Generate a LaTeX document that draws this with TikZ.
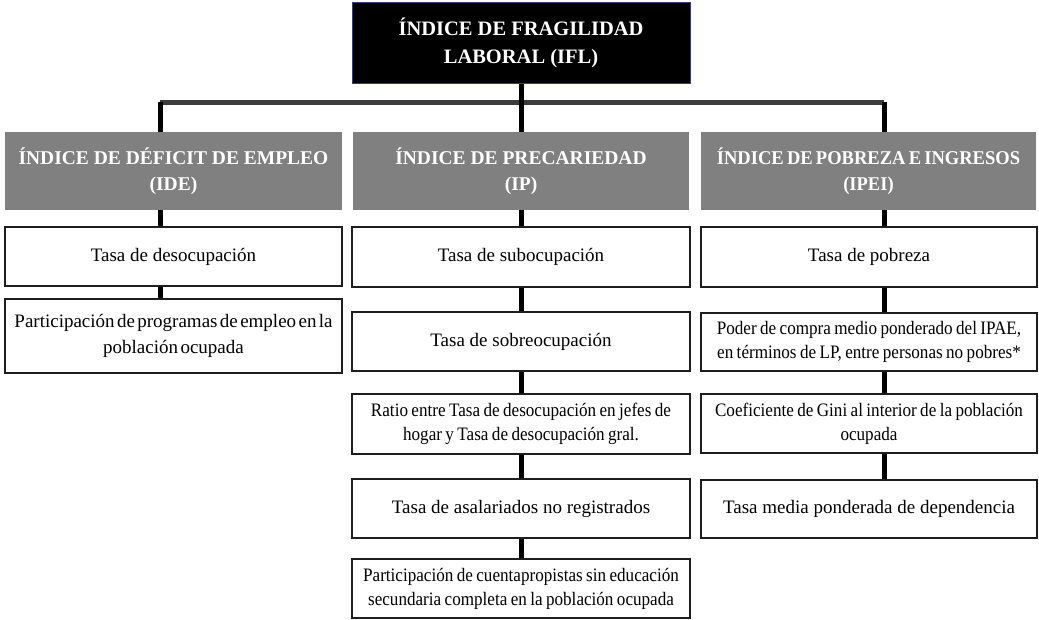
\documentclass[tikz,border=0pt]{standalone}
\usepackage{fontspec}
\setmainfont{Liberation Serif}
\newfontfamily\tightfont{Liberation Serif}[WordSpace=0.5]
\newfontfamily\condfont{Liberation Serif}[FakeStretch=0.9, WordSpace=0.8]
\newfontfamily\hdrcond{Liberation Serif}[FakeStretch=0.95, WordSpace=0.7]
\definecolor{hdrgray}{RGB}{128,128,128}
\definecolor{bargray}{RGB}{60,60,60}
\definecolor{topborder}{RGB}{50,65,110}
\definecolor{boxline}{RGB}{30,30,30}
\tikzset{
  topbox/.style={draw=topborder, line width=1pt, fill=black, text=white, align=center,
    minimum width=338pt, minimum height=81pt, inner sep=0pt,
    font=\fontsize{20.5}{28}\selectfont\bfseries},
  hdrbox/.style={fill=hdrgray, text=white, align=center, minimum height=78pt, inner sep=0pt,
    font=\fontsize{19.5}{26}\selectfont\bfseries},
  itembox/.style={draw=boxline, line width=1.5pt, fill=white, align=center, inner sep=0pt,
    font=\fontsize{19}{24}\selectfont},
  condtext/.style={font=\condfont\fontsize{19}{24}\selectfont},
  tighttext/.style={font=\tightfont\fontsize{19}{26}\selectfont},
  conn/.style={line width=5pt, black},
  barline/.style={line width=5pt, bargray},
}
\begin{document}
\begin{tikzpicture}[x=1pt,y=-1pt]
\useasboundingbox (0,0) rectangle (1039,619);
\fill[white] (0,0) rectangle (1039,619);

% coordinates for the bar and column connector positions
\coordinate (barL) at (160,102);
\coordinate (barR) at (884,102);
\coordinate (colL) at (160,0);
\coordinate (colR) at (884,0);

% connectors first (boxes drawn on top)
\draw[barline] (barL) -- (barR);

% top
\node[topbox] (top) at (521,42.5) {ÍNDICE DE FRAGILIDAD\\LABORAL (IFL)};

% headers
\node[hdrbox, minimum width=337pt] (hl) at (173.5,171) {ÍNDICE DE DÉFICIT DE EMPLEO\\(IDE)};
\node[hdrbox, minimum width=336pt] (hm) at (521,171) {ÍNDICE DE PRECARIEDAD\\(IP)};
\node[hdrbox, minimum width=335pt, font=\hdrcond\fontsize{19.5}{26}\selectfont\bfseries] (hr) at (868.5,171) {ÍNDICE DE POBREZA E INGRESOS\\(IPEI)};

% left column items
\node[itembox, minimum width=337pt, minimum height=59pt] (l1) at (173.5,256.5) {Tasa de desocupación};
\node[itembox, tighttext, minimum width=337pt, minimum height=74pt] (l2) at (173.5,336) {Participación de programas de empleo en la\\población ocupada};

% middle column items
\node[itembox, minimum width=338pt, minimum height=60pt] (m1) at (521,257) {Tasa de subocupación};
\node[itembox, minimum width=338pt, minimum height=59pt] (m2) at (521,341.5) {Tasa de sobreocupación};
\node[itembox, condtext, minimum width=338pt, minimum height=60pt] (m3) at (521,424) {Ratio entre Tasa de desocupación en jefes de\\hogar y Tasa de desocupación gral.};
\node[itembox, minimum width=338pt, minimum height=59pt] (m4) at (521,508.5) {Tasa de asalariados no registrados};
\node[itembox, condtext, minimum width=338pt, minimum height=59pt] (m5) at (521,588.5) {Participación de cuentapropistas sin educación\\secundaria completa en la población ocupada};

% right column items
\node[itembox, minimum width=336pt, minimum height=60pt] (r1) at (869,257) {Tasa de pobreza};
\node[itembox, condtext, minimum width=336pt, minimum height=58pt] (r2) at (869,342) {Poder de compra medio ponderado del IPAE,\\en términos de LP, entre personas no pobres*};
\node[itembox, condtext, minimum width=336pt, minimum height=59pt] (r3) at (869,423.5) {Coeficiente de Gini al interior de la población\\ocupada};
\node[itembox, minimum width=336pt, minimum height=58pt] (r4) at (869,509) {Tasa media ponderada de dependencia};

% connectors
\draw[conn] (top.south) -- (hm.north);
\draw[conn] (barL) -- (hl.north -| barL);
\draw[conn] (barR) -- (hr.north -| barR);

\draw[conn] (hl.south -| colL) -- (l1.north -| colL);
\draw[conn] (l1.south -| colL) -- (l2.north -| colL);

\draw[conn] (hm.south) -- (m1.north);
\draw[conn] (m1.south) -- (m2.north);
\draw[conn] (m2.south) -- (m3.north);
\draw[conn] (m3.south) -- (m4.north);
\draw[conn] (m4.south) -- (m5.north);

\draw[conn] (hr.south -| colR) -- (r1.north -| colR);
\draw[conn] (r1.south -| colR) -- (r2.north -| colR);
\draw[conn] (r2.south -| colR) -- (r3.north -| colR);
\draw[conn] (r3.south -| colR) -- (r4.north -| colR);
\end{tikzpicture}
\end{document}
